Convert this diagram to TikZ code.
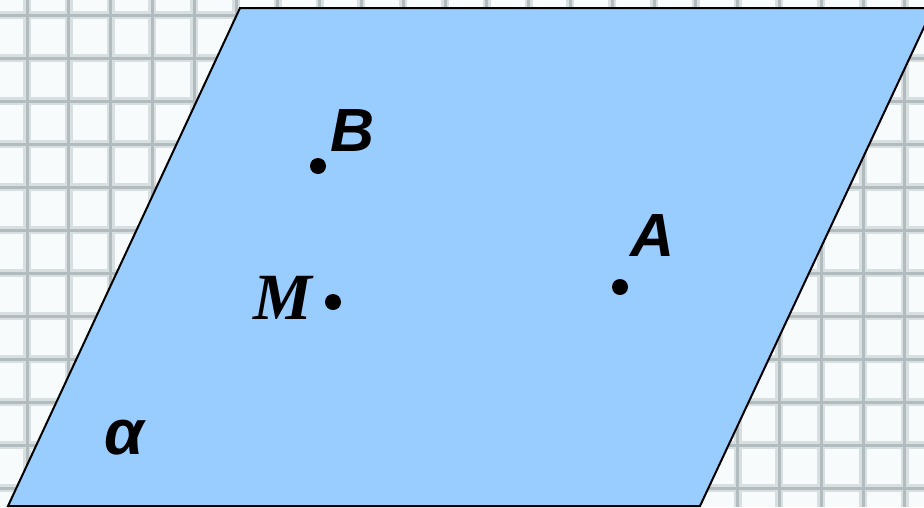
\documentclass[tikz,border=0pt]{standalone}
\usepackage{fontspec}
\setmainfont{Liberation Sans}
\newfontfamily\timesbi{Liberation Serif}
\usetikzlibrary{positioning}

\definecolor{planeblue}{RGB}{153,204,255}
\definecolor{gridline}{RGB}{178,188,190}
\definecolor{gridhalo}{RGB}{216,223,224}
\definecolor{paper}{RGB}{247,251,252}

\begin{document}
\begin{tikzpicture}[x=1pt, y=-1pt,
    dot/.style={circle, fill=black, inner sep=0pt, minimum size=16pt},
    ptlabel/.style={inner sep=0pt, font=\fontsize{61}{61}\selectfont\bfseries\itshape},
    gridsoft/.style={gridhalo, line width=8pt},
    gridhard/.style={gridline, line width=3pt}]
    \useasboundingbox (0, 0) rectangle (924, 507);
    \fill [paper] (0, 0) rectangle (924, 507);

    % squared paper
    \foreach \k in {0,...,21} {
        \draw [gridsoft] (27 + 41.8*\k, 0) -- (27 + 41.8*\k, 507);
    }
    \foreach \k in {0,...,11} {
        \draw [gridsoft] (0, 15 + 43*\k) -- (924, 15 + 43*\k);
    }
    \foreach \k in {0,...,21} {
        \draw [gridhard] (27 + 41.8*\k, 0) -- (27 + 41.8*\k, 507);
    }
    \foreach \k in {0,...,11} {
        \draw [gridhard] (0, 15 + 43*\k) -- (924, 15 + 43*\k);
    }

    % plane alpha
    \draw [fill=planeblue, line width=2pt]
        (240, 8) -- (933, 8) -- (700, 506) -- (8, 506) -- cycle;

    \node [dot] (B) at (318, 166) {};
    \node [dot] (M) at (333, 302) {};
    \node [dot] (A) at (620, 287) {};

    \node [ptlabel] (labB) at (353, 131) {B};
    \node [ptlabel] (labA) at (653, 236) {A};
    \node [ptlabel, font=\fontsize{66}{66}\timesbi\bfseries\itshape] (labM) at (283, 298) {M};
    \node [ptlabel, font=\fontsize{64}{64}\selectfont\bfseries\itshape] (alpha) at (124, 438) {α};
\end{tikzpicture}
\end{document}
